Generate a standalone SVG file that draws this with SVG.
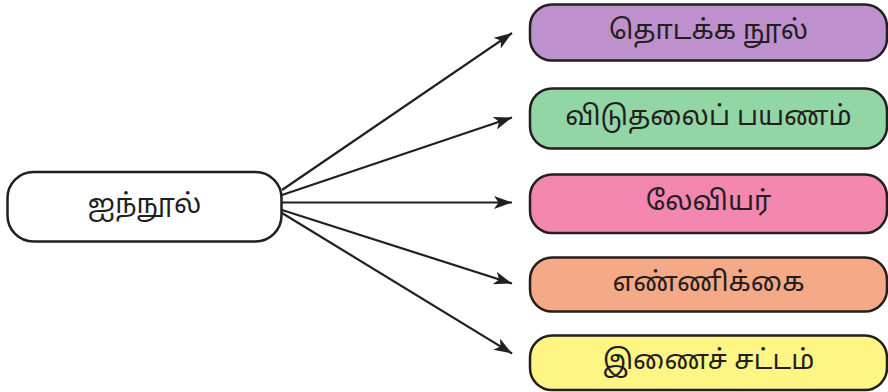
<svg xmlns="http://www.w3.org/2000/svg" width="888" height="392" viewBox="0 0 888 392">
<style>
.box{stroke:#231f20;stroke-width:2.5}
.lbl{font-family:"Noto Sans Tamil","Noto Serif Tamil","Noto Sans","DejaVu Sans",sans-serif;font-size:27px;fill:#231f20;text-anchor:middle;dominant-baseline:central}
.edge{stroke:#231f20;stroke-width:2.2;fill:none;marker-end:url(#arr)}
</style>
<defs>
<marker id="arr" viewBox="0 0 10 10" refX="10" refY="5" markerWidth="18" markerHeight="13" markerUnits="userSpaceOnUse" orient="auto" preserveAspectRatio="none">
<path d="M0,0 L10,5 L0,10 L2.5,5 Z" fill="#231f20"/>
</marker>
</defs>
<g id="connectors">
<line class="edge" x1="282" y1="190" x2="512" y2="33"/>
<line class="edge" x1="282" y1="195" x2="512" y2="117.5"/>
<line class="edge" x1="282" y1="202.5" x2="512" y2="202.5"/>
<line class="edge" x1="282" y1="210" x2="512" y2="283.5"/>
<line class="edge" x1="282" y1="213" x2="512" y2="353.5"/>
</g>
<g id="n-source">
<rect class="box" x="7.5" y="172" width="274" height="69.5" rx="26" fill="#ffffff"/>
<text class="lbl" x="144.5" y="206">ஐந்நூல்</text>
</g>
<g id="n-genesis">
<rect class="box" x="530" y="4.5" width="357" height="56" rx="22" fill="#bf90ce"/>
<text class="lbl" x="708.5" y="32">தொடக்க நூல்</text>
</g>
<g id="n-exodus">
<rect class="box" x="530" y="88.5" width="357" height="60" rx="22" fill="#92d6a5"/>
<text class="lbl" x="708.5" y="118">விடுதலைப் பயணம்</text>
</g>
<g id="n-leviticus">
<rect class="box" x="530" y="174.5" width="357" height="58.5" rx="22" fill="#f487b0"/>
<text class="lbl" x="708.5" y="203">லேவியர்</text>
</g>
<g id="n-numbers">
<rect class="box" x="530" y="257.5" width="357" height="54" rx="22" fill="#f5a986"/>
<text class="lbl" x="708.5" y="284">எண்ணிக்கை</text>
</g>
<g id="n-deuteronomy">
<rect class="box" x="530" y="335.5" width="357" height="54.5" rx="22" fill="#fff584"/>
<text class="lbl" x="708.5" y="362">இணைச் சட்டம்</text>
</g>
</svg>
